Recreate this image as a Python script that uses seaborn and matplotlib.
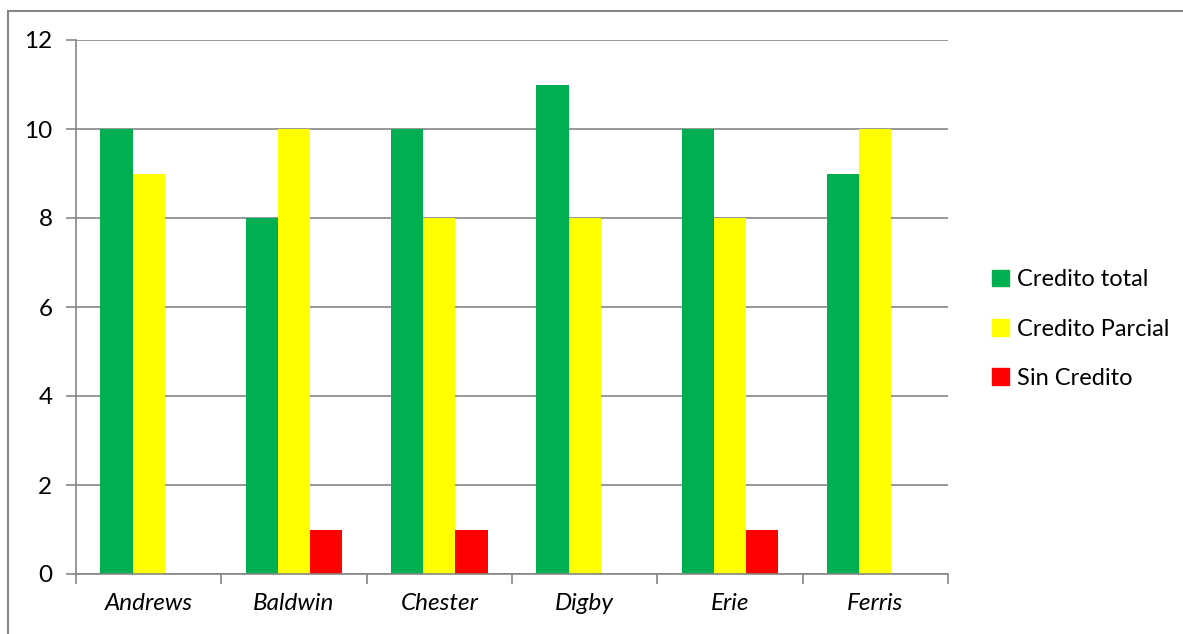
import pandas as pd
import matplotlib.pyplot as plt
import matplotlib.patches as mpatches
import seaborn as sns

# Values
teams = ['Andrews', 'Baldwin', 'Chester', 'Digby', 'Erie', 'Ferris']
credito_total = [10, 8, 10, 11, 10, 9]
credito_parcial = [9, 10, 8, 8, 8, 10]
sin_credito = [0, 1, 1, 0, 1, 0]
series_names = ['Credito total', 'Credito Parcial', 'Sin Credito']
series_colors = ['#00B050', '#FFFF00', '#FF0000']

sns.set_theme(style="white", rc={'text.color': 'black', 'xtick.color': 'black',
                                 'ytick.color': 'black'})
plt.rcParams['font.family'] = ['Lato', 'DejaVu Sans']

df = pd.DataFrame({
    'Team': teams * 3,
    'Serie': [s for s in series_names for _ in teams],
    'Valor': credito_total + credito_parcial + sin_credito,
})

fig = plt.figure(figsize=(11.83, 6.34), dpi=100)
W, H = 1183, 634
ax = fig.add_axes([76 / W, 1 - 574 / H, 872 / W, 534 / H])

sns.barplot(data=df, x='Team', y='Valor', hue='Serie', hue_order=series_names,
            palette=series_colors, width=0.667, gap=0, saturation=1,
            errorbar=None, legend=False, linewidth=0, ax=ax)

ax.set_xlim(-0.5, len(teams) - 0.5)
ax.set_ylim(0, 12)
ax.set_yticks(range(0, 13, 2))
ax.set_xlabel('')
ax.set_ylabel('')

grey = '#868686'
ax.grid(axis='y', color=grey, linewidth=1.2)
ax.set_axisbelow(True)
for side in ['top', 'right']:
    ax.spines[side].set_visible(False)
for side in ['left', 'bottom']:
    ax.spines[side].set_color(grey)
    ax.spines[side].set_linewidth(1.2)

# category ticks sit between groups, like Excel
ax.set_xticks([i - 0.5 for i in range(len(teams) + 1)], minor=False)
ax.set_xticklabels([])
ax.set_xticks(range(len(teams)), minor=True)
ax.set_xticklabels(teams, minor=True, fontsize=17.5, style='italic')
ax.tick_params(axis='x', which='major', length=7, color=grey, width=1.2, direction='out', bottom=True)
ax.tick_params(axis='x', which='minor', length=0, pad=14, labelcolor='black')
ax.tick_params(axis='y', length=7, color=grey, width=1.2, direction='out', left=True,
               labelsize=17.5, pad=10, labelcolor='black')

handles = [mpatches.Patch(color=c, label=n) for c, n in zip(series_colors, series_names)]
fig.legend(handles=handles, loc='center left', bbox_to_anchor=(992 / W, 1 - 329 / H),
           frameon=False, fontsize=17, handlelength=0.7, handleheight=0.7,
           handletextpad=0.35, labelspacing=1.2, borderpad=0, borderaxespad=0,
           labelcolor='black')

# outer chart border (cut off at right and bottom in the reference)
fig.patches.append(mpatches.Rectangle((8 / W, -0.1), 1.2, 1 - 11 / H + 0.1,
                                      transform=fig.transFigure, fill=False,
                                      edgecolor=grey, linewidth=1.5))

fig.savefig('out.png', dpi=100)
plt.close()
